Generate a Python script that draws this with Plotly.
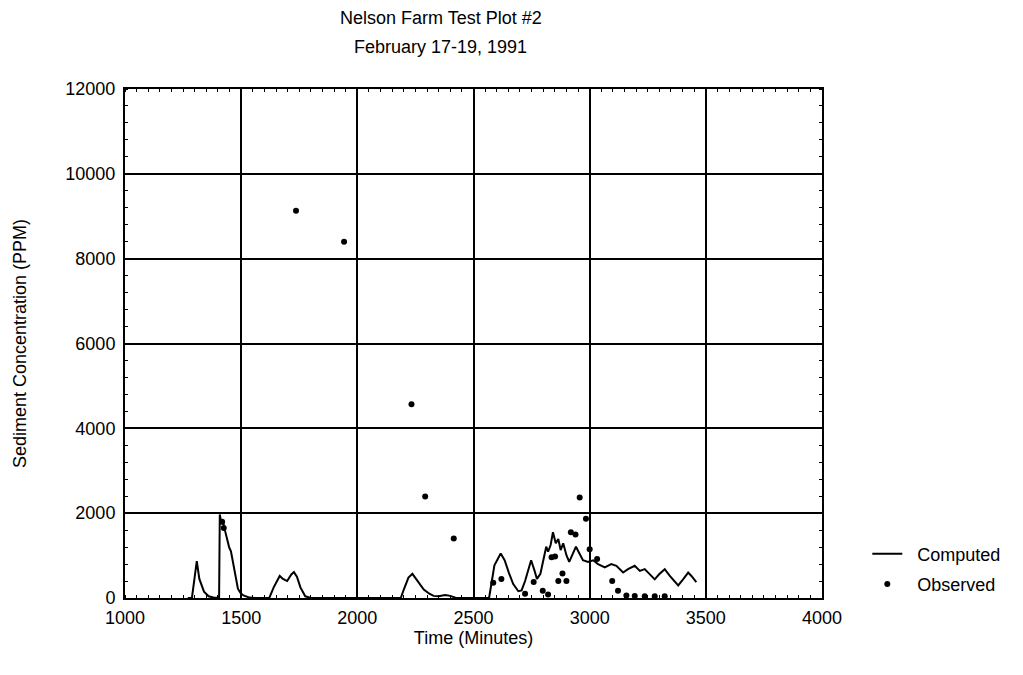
import plotly.graph_objects as go

# Computed sediment concentration (time in minutes, PPM)
computed_time = [1270, 1288, 1300, 1309, 1320, 1340, 1360, 1380, 1405, 1408, 1415, 1422, 1430,
                 1440, 1448, 1456, 1465, 1476, 1486, 1497, 1510, 1536, 1560,
                 1621, 1640, 1666, 1680, 1698, 1715, 1727, 1740, 1755, 1776, 1800,
                 2187, 2200, 2220, 2237, 2255, 2286, 2310, 2328, 2350, 2378, 2400, 2412, 2425,
                 2567, 2576, 2590, 2617, 2634, 2652, 2671, 2693, 2707, 2722, 2737, 2748, 2763,
                 2773, 2788, 2803, 2813, 2821, 2832, 2842, 2854, 2865, 2875, 2886, 2900, 2912,
                 2927, 2941, 2956, 2971, 2993, 3015, 3036, 3065, 3093, 3115, 3144, 3165, 3194,
                 3216, 3237, 3259, 3280, 3299, 3323, 3345, 3381, 3402, 3424, 3438, 3459]
computed_ppm = [0, 0, 500, 870, 450, 150, 40, 10, 0, 1970, 1750, 1800, 1600,
                1350, 1200, 1100, 850, 500, 220, 120, 60, 10, 0,
                0, 250, 520, 450, 400, 550, 610, 500, 250, 40, 0,
                0, 200, 480, 570, 440, 200, 100, 50, 40, 70, 50, 20, 0,
                0, 330, 770, 1050, 890, 600, 330, 160, 180, 400, 720, 890, 640,
                450, 570, 930, 1210, 1090, 1250, 1550, 1290, 1390, 1130, 1290, 1010, 850,
                1050, 1210, 1050, 890, 850, 890, 800, 720, 800, 760, 600, 680, 760,
                640, 680, 560, 440, 560, 680, 520, 295, 440, 600, 520, 375]

# Observed sediment concentration
observed_time = [1418, 1425, 1736, 1943, 2233, 2292, 2415, 2585, 2620, 2722, 2759, 2798,
                 2821, 2836, 2851, 2865, 2883, 2900, 2919, 2939, 2957, 2984, 3000, 3032,
                 3097, 3122, 3158, 3194, 3237, 3280, 3323]
observed_ppm = [1800, 1650, 9130, 8400, 4570, 2390, 1400, 360, 450, 100, 380, 170,
                80, 960, 980, 400, 580, 400, 1550, 1500, 2370, 1870, 1150, 920,
                400, 170, 60, 50, 40, 40, 40]

x_ticks = [1000, 1500, 2000, 2500, 3000, 3500, 4000]
y_ticks = [0, 2000, 4000, 6000, 8000, 10000, 12000]
x_range = [1000, 4000]
y_range = [0, 12000]

FONT = "Liberation Sans, Arial, sans-serif"
FS = 18

fig = go.Figure()
fig.add_trace(go.Scatter(x=computed_time, y=computed_ppm, mode="lines",
                         name="\u00a0\u00a0Computed",
                         line=dict(color="black", width=2), legendgroup="a"))
fig.add_trace(go.Scatter(x=observed_time, y=observed_ppm, mode="markers",
                         name="\u00a0\u00a0Observed",
                         marker=dict(color="black", size=6), legendgroup="b"))
# empty trace to carry the mirrored (top/right) minor-tick axes
fig.add_trace(go.Scatter(x=[], y=[], xaxis="x2", yaxis="y2", showlegend=False,
                         hoverinfo="skip"))

axis_common = dict(showline=True, linecolor="black", linewidth=2, mirror=True,
                   showgrid=True, gridcolor="black", gridwidth=2, zeroline=False,
                   ticks="", automargin=False,
                   tickfont=dict(family=FONT, size=FS, color="black"),
                   title_font=dict(family=FONT, size=FS, color="black"))

fig.update_layout(
    xaxis=dict(range=x_range, tickvals=x_ticks, ticktext=[str(v) for v in x_ticks],
               title_text="Time (Minutes)", title_standoff=4, ticklabelstandoff=2,
               minor=dict(ticks="inside", dtick=50, ticklen=3, tickcolor="black",
                          tickwidth=1, showgrid=False),
               **axis_common),
    yaxis=dict(range=y_range, tickvals=y_ticks, ticktext=[str(v) for v in y_ticks],
               title_text="Sediment Concentration (PPM)", title_standoff=34,
               ticklabelstandoff=4,
               minor=dict(ticks="inside", dtick=400, ticklen=3, tickcolor="black",
                          tickwidth=1, showgrid=False),
               **axis_common),
    xaxis2=dict(range=x_range, overlaying="x", side="top", anchor="y2",
                showgrid=False, zeroline=False, showticklabels=False, showline=False,
                tickvals=x_ticks, ticks="", automargin=False,
                minor=dict(ticks="inside", dtick=50, ticklen=3, tickcolor="black",
                           tickwidth=1, showgrid=False)),
    yaxis2=dict(range=y_range, overlaying="y", side="right", anchor="x2",
                showgrid=False, zeroline=False, showticklabels=False, showline=False,
                tickvals=y_ticks, ticks="", automargin=False,
                minor=dict(ticks="inside", dtick=400, ticklen=3, tickcolor="black",
                           tickwidth=1, showgrid=False)),
)

fig.add_annotation(text="Nelson Farm Test Plot #2", xref="paper", yref="paper",
                   x=0.453, y=1, yanchor="middle", yshift=71, showarrow=False,
                   font=dict(family=FONT, size=FS, color="black"))
fig.add_annotation(text="February 17-19, 1991", xref="paper", yref="paper",
                   x=0.453, y=1, yanchor="middle", yshift=42, showarrow=False,
                   font=dict(family=FONT, size=FS, color="black"))

fig.update_layout(
    width=1023, height=675,
    margin=dict(l=117, r=209, t=81, b=85),
    plot_bgcolor="white", paper_bgcolor="white",
    showlegend=True,
    legend=dict(x=1.065, y=0.057, xanchor="left", yanchor="middle",
                font=dict(family=FONT, size=FS, color="black"),
                itemwidth=30, tracegroupgap=4, bgcolor="rgba(0,0,0,0)"),
)

fig.write_html("out.html")
